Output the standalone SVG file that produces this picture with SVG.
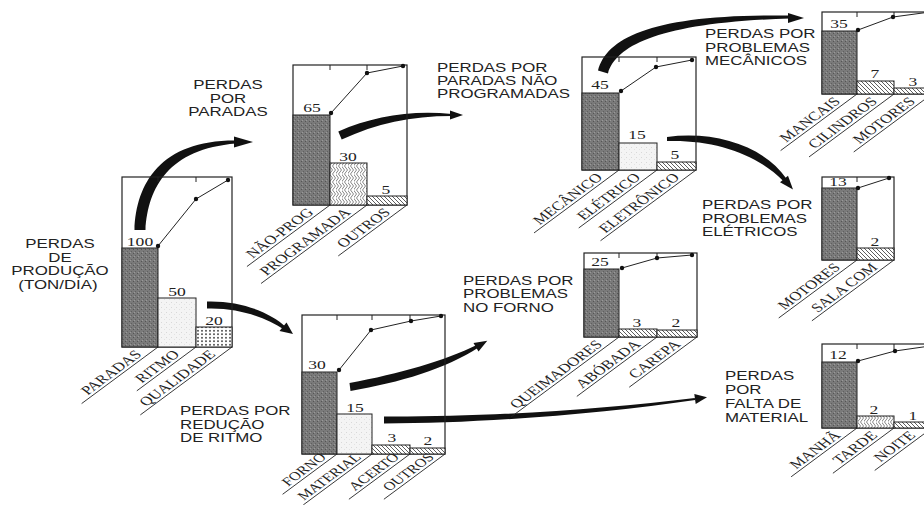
<svg xmlns="http://www.w3.org/2000/svg" width="924" height="505" viewBox="0 0 924 505">
<defs>
<pattern id="dark" width="4" height="4" patternUnits="userSpaceOnUse"><rect width="4" height="4" fill="#7a7a7a"/><rect x="1" y="1" width="1" height="1" fill="#555"/><rect x="3" y="3" width="1" height="1" fill="#606060"/><rect x="2" y="0" width="1" height="1" fill="#9a9a9a"/></pattern>
<pattern id="light" width="5" height="5" patternUnits="userSpaceOnUse"><rect width="5" height="5" fill="#f4f4f4"/><rect x="1" y="2" width="1" height="1" fill="#d8d8d8"/><rect x="4" y="4" width="1" height="1" fill="#e2e2e2"/></pattern>
<pattern id="hatch" width="4" height="4" patternUnits="userSpaceOnUse"><rect width="4" height="4" fill="#fff"/><path d="M0,0L4,4M-1,3L1,5M3,-1L5,1" stroke="#333" stroke-width="0.8"/></pattern>
<pattern id="dots" width="4" height="3.5" patternUnits="userSpaceOnUse"><rect width="4" height="3.5" fill="#fff"/><circle cx="2" cy="1.75" r="0.9" fill="#222"/></pattern>
<pattern id="wavy" width="6" height="8" patternUnits="userSpaceOnUse"><rect width="6" height="8" fill="#fff"/><path d="M1,0 Q4,2 1,4 T1,8 M4,0 Q7,2 4,4 T4,8" fill="none" stroke="#333" stroke-width="0.6"/></pattern>
</defs>
<style>
.fr{fill:none;stroke:#222;stroke-width:1.2}
.bar{stroke:#222;stroke-width:1}
.tk{stroke:#222;stroke-width:1}
.pl{fill:none;stroke:#222;stroke-width:1}
.dt{fill:#111}
.hd{font-family:"Liberation Sans",Arial,sans-serif;font-size:12.5px;fill:#222}
.v{font-family:"Liberation Serif","Times New Roman",serif;font-size:13px;fill:#222;text-anchor:middle}
.lb{font-family:"Liberation Serif","Times New Roman",serif;font-size:12.5px;fill:#222;text-anchor:end}
.sm{font-size:12px}
.ul{stroke:#222;stroke-width:0.9;vector-effect:non-scaling-stroke}
.ar{fill:#111}
.m{text-anchor:middle}
</style>
<rect width="924" height="505" fill="#fff"/>

<g id="connectors">
<path class="ar" d="M134.5,230 C136,183 161,140 236,140.5 L236,143.5 C169,149 148,187 145.5,230 Z"/>
<path class="ar" d="M234,136.5 L253,142 L234,147.5 Z"/>
<path class="ar" d="M207,301.5 C240,300.5 270,312 286,327 L284,329.4 C266,318 240,307.5 207,308.5 Z"/>
<path class="ar" d="M286.5,322.5 L293,334 L279.5,331 Z"/>
<path class="ar" d="M338.3,131.4 C373.5,116.5 409.5,110 452,114 L452,116 C410.5,116 376.5,123.5 341.7,139.6 Z"/>
<path class="ar" d="M450,110.5 L463,115 L450,119.5 Z"/>
<path class="ar" d="M598,70.6 C607,36 657,13.5 790,15.5 L790,18.5 C663,22.5 617,44 608,73.4 Z"/>
<path class="ar" d="M788,13 L804,18 L788,23 Z"/>
<path class="ar" d="M667,137 C715,130.5 764,146 786.5,178.7 L783.5,181.3 C757,154 715,139.5 667,141 Z"/>
<path class="ar" d="M788,175.8 L793,189.5 L780,182.2 Z"/>
<path class="ar" d="M349.5,383 C400,373.5 444,361 477.2,344.7 L478.8,347.3 C446,369 400,382.5 350.5,391 Z"/>
<path class="ar" d="M473.5,342.9 L487.3,340.7 L478.5,351.6 Z"/>
<path class="ar" d="M384,416.5 C480,417 600,410 694.8,398 L695.2,400 C600,414 480,423.5 384,423.5 Z"/>
<path class="ar" d="M694.3,393.9 L707,397.3 L695.7,403.9 Z"/>
</g>

<g id="n-producao">
<rect class="fr" x="122" y="177" width="110" height="170"/>
<rect class="bar" x="122" y="248" width="36" height="99" fill="url(#dark)"/>
<rect class="bar" x="158" y="298" width="38" height="49" fill="url(#light)"/>
<rect class="bar" x="196" y="327" width="36" height="20" fill="url(#dots)"/>
<path class="tk" d="M158,177v5M196,177v5"/>
<polyline class="pl" points="158,246 196,199 228,180"/>
<circle class="dt" cx="158" cy="246" r="2.2"/><circle class="dt" cx="196" cy="199" r="2.2"/><circle class="dt" cx="228" cy="180" r="2.2"/>
<text class="v" transform="translate(140,246) scale(1.35,1)">100</text>
<text class="v" transform="translate(177,296) scale(1.35,1)">50</text>
<text class="v" transform="translate(214,325) scale(1.35,1)">20</text>
<g transform="translate(158,347) scale(1.35,1) rotate(-45)"><line class="ul" x1="0" y1="0" x2="-80" y2="0"/><text class="lb" x="-14" y="-2.5">PARADAS</text></g>
<g transform="translate(196,347) scale(1.35,1) rotate(-45)"><line class="ul" x1="0" y1="0" x2="-62" y2="0"/><text class="lb" x="-14" y="-2.5">RITMO</text></g>
<g transform="translate(232,347) scale(1.35,1) rotate(-45)"><line class="ul" x1="0" y1="0" x2="-96" y2="0"/><text class="lb" x="-14" y="-2.5">QUALIDADE</text></g>
<text class="hd m" transform="translate(60,248) scale(1.35,1)">PERDAS</text>
<text class="hd m" transform="translate(60,261.5) scale(1.35,1)">DE</text>
<text class="hd m" transform="translate(60,275) scale(1.35,1)">PRODUÇÃO</text>
<text class="hd m" transform="translate(58,288.5) scale(1.35,1)">(TON/DIA)</text>
</g>

<g id="n-paradas">
<rect class="fr" x="293" y="65" width="114" height="140"/>
<rect class="bar" x="293" y="115" width="37" height="90" fill="url(#dark)"/>
<rect class="bar" x="330" y="163" width="37" height="42" fill="url(#wavy)"/>
<rect class="bar" x="367" y="196" width="40" height="9" fill="url(#hatch)"/>
<path class="tk" d="M330,65v5M367,65v5"/>
<polyline class="pl" points="331,113 367,73 403,66"/>
<circle class="dt" cx="331" cy="113" r="2.2"/><circle class="dt" cx="367" cy="73" r="2.2"/><circle class="dt" cx="403" cy="66" r="2.2"/>
<text class="v" transform="translate(312,112) scale(1.35,1)">65</text>
<text class="v" transform="translate(348,161) scale(1.35,1)">30</text>
<text class="v" transform="translate(386,194) scale(1.35,1)">5</text>
<g transform="translate(330,205) scale(1.35,1) rotate(-45)"><line class="ul" x1="0" y1="0" x2="-87" y2="0"/><text class="lb" x="-14" y="-2.5">NÃO-PROG</text></g>
<g transform="translate(367,205) scale(1.35,1) rotate(-45)"><line class="ul" x1="0" y1="0" x2="-111" y2="0"/><text class="lb" x="-14" y="-2.5">PROGRAMADA</text></g>
<g transform="translate(407,205) scale(1.35,1) rotate(-45)"><line class="ul" x1="0" y1="0" x2="-72" y2="0"/><text class="lb" x="-14" y="-2.5">OUTROS</text></g>
<text class="hd m" transform="translate(228,89) scale(1.35,1)">PERDAS</text>
<text class="hd m" transform="translate(228,102.5) scale(1.35,1)">POR</text>
<text class="hd m" transform="translate(228,116) scale(1.35,1)">PARADAS</text>
</g>

<g id="n-ritmo">
<rect class="fr" x="302" y="315" width="143" height="139"/>
<rect class="bar" x="302" y="372" width="35" height="82" fill="url(#dark)"/>
<rect class="bar" x="337" y="414" width="35" height="40" fill="url(#light)"/>
<rect class="bar" x="372" y="445" width="38" height="9" fill="url(#hatch)"/>
<rect class="bar" x="410" y="448" width="35" height="6" fill="url(#hatch)"/>
<path class="tk" d="M337,315v5M372,315v5M410,315v5"/>
<polyline class="pl" points="339,370 371,330 411,321 441,316"/>
<circle class="dt" cx="339" cy="370" r="2.2"/><circle class="dt" cx="371" cy="330" r="2.2"/><circle class="dt" cx="411" cy="321" r="2.2"/><circle class="dt" cx="441" cy="316" r="2.2"/>
<text class="v" transform="translate(317,369) scale(1.35,1)">30</text>
<text class="v" transform="translate(355,412) scale(1.35,1)">15</text>
<text class="v" transform="translate(392,442) scale(1.35,1)">3</text>
<text class="v" transform="translate(428,445) scale(1.35,1)">2</text>
<g transform="translate(337,454) scale(1.35,1) rotate(-45)"><line class="ul" x1="0" y1="0" x2="-57" y2="0"/><text class="lb sm" x="-8" y="-2.5">FORNO</text></g>
<g transform="translate(372,454) scale(1.35,1) rotate(-45)"><line class="ul" x1="0" y1="0" x2="-72" y2="0"/><text class="lb sm" x="-8" y="-2.5">MATERIAL</text></g>
<g transform="translate(410,454) scale(1.35,1) rotate(-45)"><line class="ul" x1="0" y1="0" x2="-64" y2="0"/><text class="lb sm" x="-8" y="-2.5">ACERTO</text></g>
<g transform="translate(445,454) scale(1.35,1) rotate(-45)"><line class="ul" x1="0" y1="0" x2="-64" y2="0"/><text class="lb sm" x="-8" y="-2.5">OUTROS</text></g>
<text class="hd" transform="translate(180,415) scale(1.35,1)">PERDAS POR</text>
<text class="hd" transform="translate(180,428.5) scale(1.35,1)">REDUÇÃO</text>
<text class="hd" transform="translate(180,442) scale(1.35,1)">DE RITMO</text>
</g>

<g id="n-nao-programadas">
<rect class="fr" x="582" y="57" width="114" height="113"/>
<rect class="bar" x="582" y="93" width="37" height="77" fill="url(#dark)"/>
<rect class="bar" x="619" y="143" width="38" height="27" fill="url(#light)"/>
<rect class="bar" x="657" y="162" width="39" height="8" fill="url(#hatch)"/>
<path class="tk" d="M619,57v5M657,57v5"/>
<polyline class="pl" points="621,91 656,67 692,60"/>
<circle class="dt" cx="621" cy="91" r="2.2"/><circle class="dt" cx="656" cy="67" r="2.2"/><circle class="dt" cx="692" cy="60" r="2.2"/>
<text class="v" transform="translate(600,89) scale(1.35,1)">45</text>
<text class="v" transform="translate(637,139) scale(1.35,1)">15</text>
<text class="v" transform="translate(675,159) scale(1.35,1)">5</text>
<g transform="translate(619,170) scale(1.35,1) rotate(-45)"><line class="ul" x1="0" y1="0" x2="-89" y2="0"/><text class="lb" x="-14" y="-2.5">MECÂNICO</text></g>
<g transform="translate(657,170) scale(1.35,1) rotate(-45)"><line class="ul" x1="0" y1="0" x2="-82" y2="0"/><text class="lb" x="-14" y="-2.5">ELÉTRICO</text></g>
<g transform="translate(696,170) scale(1.35,1) rotate(-45)"><line class="ul" x1="0" y1="0" x2="-100" y2="0"/><text class="lb" x="-14" y="-2.5">ELETRÔNICO</text></g>
<text class="hd" transform="translate(437,72) scale(1.35,1)">PERDAS POR</text>
<text class="hd" transform="translate(437,85) scale(1.35,1)">PARADAS NÃO</text>
<text class="hd" transform="translate(437,98) scale(1.35,1)">PROGRAMADAS</text>
</g>

<g id="n-mecanicos">
<rect class="fr" x="822" y="12" width="110" height="82"/>
<rect class="bar" x="822" y="31" width="35" height="63" fill="url(#dark)"/>
<rect class="bar" x="857" y="81" width="37" height="13" fill="url(#hatch)"/>
<rect class="bar" x="894" y="88" width="38" height="6" fill="url(#hatch)"/>
<path class="tk" d="M857,12v5M894,12v5"/>
<polyline class="pl" points="858,30 893,17 930,12"/>
<circle class="dt" cx="858" cy="30" r="2.2"/><circle class="dt" cx="893" cy="17" r="2.2"/>
<text class="v" transform="translate(839,28) scale(1.35,1)">35</text>
<text class="v" transform="translate(875,78) scale(1.35,1)">7</text>
<text class="v" transform="translate(913,86) scale(1.35,1)">3</text>
<g transform="translate(857,94) scale(1.35,1) rotate(-45)"><line class="ul" x1="0" y1="0" x2="-80" y2="0"/><text class="lb" x="-14" y="-2.5">MANCAIS</text></g>
<g transform="translate(894,94) scale(1.35,1) rotate(-45)"><line class="ul" x1="0" y1="0" x2="-89" y2="0"/><text class="lb" x="-14" y="-2.5">CILINDROS</text></g>
<g transform="translate(932,94) scale(1.35,1) rotate(-45)"><line class="ul" x1="0" y1="0" x2="-82" y2="0"/><text class="lb" x="-14" y="-2.5">MOTORES</text></g>
<text class="hd" transform="translate(705,38) scale(1.35,1)">PERDAS POR</text>
<text class="hd" transform="translate(705,51.5) scale(1.35,1)">PROBLEMAS</text>
<text class="hd" transform="translate(705,65) scale(1.35,1)">MECÂNICOS</text>
</g>

<g id="n-eletricos">
<rect class="fr" x="822" y="177" width="72" height="83"/>
<rect class="bar" x="822" y="188" width="35" height="72" fill="url(#dark)"/>
<rect class="bar" x="857" y="248" width="37" height="12" fill="url(#hatch)"/>
<path class="tk" d="M857,177v5"/>
<polyline class="pl" points="858,188 889,178"/>
<circle class="dt" cx="858" cy="188" r="2.2"/><circle class="dt" cx="889" cy="178" r="2.2"/>
<text class="v" transform="translate(838,186) scale(1.35,1)">13</text>
<text class="v" transform="translate(875,246) scale(1.35,1)">2</text>
<g transform="translate(857,260) scale(1.35,1) rotate(-45)"><line class="ul" x1="0" y1="0" x2="-82" y2="0"/><text class="lb" x="-14" y="-2.5">MOTORES</text></g>
<g transform="translate(894,260) scale(1.35,1) rotate(-45)"><line class="ul" x1="0" y1="0" x2="-86" y2="0"/><text class="lb" x="-14" y="-2.5">SALA COM</text></g>
<text class="hd" transform="translate(702,209) scale(1.35,1)">PERDAS POR</text>
<text class="hd" transform="translate(702,222.5) scale(1.35,1)">PROBLEMAS</text>
<text class="hd" transform="translate(702,236) scale(1.35,1)">ELÉTRICOS</text>
</g>

<g id="n-material">
<rect class="fr" x="822" y="344" width="110" height="84"/>
<rect class="bar" x="822" y="362" width="35" height="66" fill="url(#dark)"/>
<rect class="bar" x="857" y="416" width="37" height="12" fill="url(#wavy)"/>
<rect class="bar" x="894" y="422" width="38" height="6" fill="url(#hatch)"/>
<path class="tk" d="M857,344v5M894,344v5"/>
<polyline class="pl" points="858,361 895,351 930,346"/>
<circle class="dt" cx="858" cy="361" r="2.2"/><circle class="dt" cx="895" cy="351" r="2.2"/>
<text class="v" transform="translate(838,359) scale(1.35,1)">12</text>
<text class="v" transform="translate(874,414) scale(1.35,1)">2</text>
<text class="v" transform="translate(913,420) scale(1.35,1)">1</text>
<g transform="translate(857,428) scale(1.35,1) rotate(-45)"><line class="ul" x1="0" y1="0" x2="-69" y2="0"/><text class="lb" x="-14" y="-2.5">MANHÃ</text></g>
<g transform="translate(894,428) scale(1.35,1) rotate(-45)"><line class="ul" x1="0" y1="0" x2="-64" y2="0"/><text class="lb" x="-14" y="-2.5">TARDE</text></g>
<g transform="translate(932,428) scale(1.35,1) rotate(-45)"><line class="ul" x1="0" y1="0" x2="-60" y2="0"/><text class="lb" x="-14" y="-2.5">NOITE</text></g>
<text class="hd" transform="translate(725,380) scale(1.35,1)">PERDAS</text>
<text class="hd" transform="translate(725,394) scale(1.35,1)">POR</text>
<text class="hd" transform="translate(725,408) scale(1.35,1)">FALTA DE</text>
<text class="hd" transform="translate(725,422) scale(1.35,1)">MATERIAL</text>
</g>

<g id="n-forno">
<rect class="fr" x="584" y="253" width="113" height="84"/>
<rect class="bar" x="584" y="269" width="35" height="68" fill="url(#dark)"/>
<rect class="bar" x="619" y="329" width="38" height="8" fill="url(#hatch)"/>
<rect class="bar" x="657" y="330" width="40" height="7" fill="url(#hatch)"/>
<path class="tk" d="M619,253v5M657,253v5"/>
<polyline class="pl" points="622,268 657,258 692,255"/>
<circle class="dt" cx="622" cy="268" r="2.2"/><circle class="dt" cx="657" cy="258" r="2.2"/><circle class="dt" cx="692" cy="255" r="2.2"/>
<text class="v" transform="translate(600,266) scale(1.35,1)">25</text>
<text class="v" transform="translate(637,327) scale(1.35,1)">3</text>
<text class="v" transform="translate(676,327) scale(1.35,1)">2</text>
<g transform="translate(619,337) scale(1.35,1) rotate(-45)"><line class="ul" x1="0" y1="0" x2="-113" y2="0"/><text class="lb" x="-14" y="-2.5">QUEIMADORES</text></g>
<g transform="translate(657,337) scale(1.35,1) rotate(-45)"><line class="ul" x1="0" y1="0" x2="-84" y2="0"/><text class="lb" x="-14" y="-2.5">ABÓBADA</text></g>
<g transform="translate(697,337) scale(1.35,1) rotate(-45)"><line class="ul" x1="0" y1="0" x2="-71" y2="0"/><text class="lb" x="-14" y="-2.5">CAREPA</text></g>
<text class="hd" transform="translate(463,284.5) scale(1.35,1)">PERDAS POR</text>
<text class="hd" transform="translate(463,298) scale(1.35,1)">PROBLEMAS</text>
<text class="hd" transform="translate(463,311.5) scale(1.35,1)">NO FORNO</text>
</g>
</svg>
